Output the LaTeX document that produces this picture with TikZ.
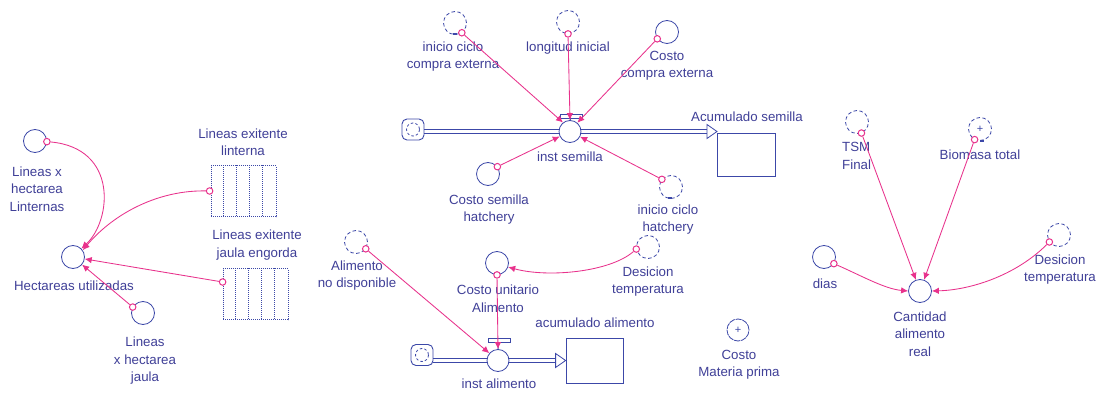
\documentclass[tikz,border=0pt]{standalone}
\usepackage{fontspec}
\setmainfont{Liberation Sans}
\usetikzlibrary{arrows.meta}
\definecolor{simblue}{RGB}{60,72,168}
\definecolor{simtext}{RGB}{64,64,152}
\definecolor{linkpink}{RGB}{232,50,140}

\begin{document}
\begin{tikzpicture}[x=1pt,y=-1pt,
  aux/.style={circle,draw=simblue,line width=0.8pt,minimum size=23pt,inner sep=0pt,fill=white},
  ghost/.style={aux,dash pattern=on 3.5pt off 2.5pt},
  lbl/.style={text=simtext,font=\fontsize{13.3}{17.5}\selectfont,align=center,inner sep=0pt},
  dot/.style={circle,draw=linkpink,fill=white,line width=1pt,minimum size=6.5pt,inner sep=0pt},
  link/.style={draw=linkpink,line width=0.85pt,-{Latex[length=7pt,width=6.5pt]}},
  stock/.style={rectangle,draw=simblue,line width=0.8pt,fill=white,inner sep=0pt},
  lookup/.style={rectangle,draw=simblue,line width=0.8pt,dash pattern=on 1pt off 1pt,
    minimum width=65pt,minimum height=51pt,inner sep=0pt},
  lookupcol/.style={draw=simblue,line width=0.8pt,dash pattern=on 1pt off 1pt},
  source/.style={rectangle,rounded corners=5pt,draw=simblue,line width=0.9pt,fill=white,
    minimum width=22pt,minimum height=21pt,inner sep=0pt},
  pipeline/.style={draw=simblue,line width=0.8pt},
  valvebar/.style={rectangle,draw=simblue,line width=0.8pt,fill=white,
    minimum width=22pt,minimum height=4pt,inner sep=0pt},
  pipehead/.style={draw=simblue,line width=0.8pt,fill=white,line join=miter},
  shadowmark/.style={draw=simblue,line width=1.3pt}
]
\useasboundingbox (0,0) rectangle (1097,393);
\fill[white] (0,0) rectangle (1097,393);

% ---------- land use block ----------
\node[aux] (LxhL) at (35,141) {};
\node[lbl] (LxhLt) at (37,189) {Lineas x\\hectarea\\Linternas};
\node[aux] (HU) at (73,257) {};
\node[lbl] (HUt) at (74,286) {Hectareas utilizadas};
\node[lbl] (LELt) at (243,142) {Lineas exitente\\linterna};
\node[lookup] (LEL) at (243.5,191) {};
\node[lbl] (LEJt) at (257,245) {Lineas exitente\\jaula engorda};
\node[lookup] (LEJ) at (255.5,294) {};
\foreach \k in {13,26,39,52}{
  \draw[lookupcol] ([xshift=\k pt]LEL.north west) -- ([xshift=\k pt]LEL.south west);
  \draw[lookupcol] ([xshift=\k pt]LEJ.north west) -- ([xshift=\k pt]LEJ.south west);
}
\node[aux] (LxhJ) at (143,313) {};
\node[lbl] (LxhJt) at (145,361) {Lineas\\x hectarea\\jaula};

% ---------- seed flow ----------
\node[source] (C1) at (413,129.5) {};
\draw[simblue,line width=0.8pt,dash pattern=on 2.5pt off 2.2pt] (C1.center) circle (6.5);
\node[stock] (AS) at (746,154.5) [minimum width=58pt,minimum height=43pt] {};
\node[lbl] (ASt) at (747,117) {Acumulado semilla};
\coordinate (ASin) at (717,131.5);
\draw[pipeline] ([yshift=2pt]C1.east |- ASin) -- ([xshift=-10pt,yshift=2pt]ASin);
\draw[pipeline] ([yshift=-2pt]C1.east |- ASin) -- ([xshift=-10pt,yshift=-2pt]ASin);
\draw[pipehead] ([xshift=-10pt,yshift=7pt]ASin) -- (ASin) -- ([xshift=-10pt,yshift=-7pt]ASin) -- cycle;
\node[aux,minimum size=22pt] (IS) at (570,131.5) {};
\node[valvebar] (ISbar) at (571,116) {};
\draw[simblue,line width=0.8pt] (ISbar.south) -- (IS.north);
\node[lbl] (ISt) at (570,157) {inst semilla};

\node[ghost] (ICCE) at (455,23) {};
\draw[shadowmark] ([xshift=-2pt,yshift=-11pt]ICCE.center) -- ++(4,0);
\node[lbl] (ICCEt) at (453,56.5) {inicio ciclo\\compra externa};
\node[ghost] (LI) at (568,22) {};
\node[lbl] (LIt) at (568,48) {longitud inicial};
\node[aux] (CCE) at (667,32) {};
\node[lbl] (CCEt) at (667,65.5) {Costo\\compra externa};
\node[aux] (CSH) at (488,174) {};
\node[lbl] (CSHt) at (489,209.5) {Costo semilla\\hatchery};
\node[ghost] (ICH) at (671,187) {};
\draw[shadowmark] ([xshift=-3pt,yshift=-11pt]ICH.center) -- ++(4,0);
\node[lbl] (ICHt) at (668,219.5) {inicio ciclo\\hatchery};

% ---------- feed flow ----------
\node[source] (C2) at (422,355) {};
\draw[simblue,line width=0.8pt,dash pattern=on 2.5pt off 2.2pt] (C2.center) circle (6.5);
\node[stock] (AA) at (594.5,360.5) [minimum width=57pt,minimum height=45pt] {};
\node[lbl] (AAt) at (595,323) {acumulado alimento};
\coordinate (AAin) at (AA.west);
\draw[pipeline] ([yshift=2pt]C2.east |- AAin) -- ([xshift=-10pt,yshift=2pt]AAin);
\draw[pipeline] ([yshift=-2pt]C2.east |- AAin) -- ([xshift=-10pt,yshift=-2pt]AAin);
\draw[pipehead] ([xshift=-10pt,yshift=7pt]AAin) -- (AAin) -- ([xshift=-10pt,yshift=-7pt]AAin) -- cycle;
\node[aux,minimum size=22pt] (IA) at (498,360.5) {};
\node[valvebar] (IAbar) at (499,340) {};
\draw[simblue,line width=0.8pt] (IAbar.south) -- (IA.north);
\node[lbl] (IAt) at (499,384) {inst alimento};

\node[ghost] (AND) at (356,242) {};
\node[lbl] (ANDt) at (357,275.5) {Alimento\\no disponible};
\node[aux] (CUA) at (497,263) {};
\node[lbl] (CUAt) at (498,298.5) {Costo unitario\\Alimento};
\node[ghost] (DT2) at (648,247) {};
\node[lbl] (DT2t) at (648,281.5) {Desicion\\temperatura};
\node[aux,minimum size=22pt,dash pattern=on 6pt off 0.8pt] (CMP) at (738,330)
  {\textcolor{simblue}{\fontsize{11}{11}\selectfont +}};
\node[lbl] (CMPt) at (739,364.5) {Costo\\Materia prima};

% ---------- feed quantity block ----------
\node[ghost] (TSM) at (857,122) {};
\node[lbl,align=left,anchor=west] (TSMt) at (842,156) {TSM\\Final};
\node[ghost] (BT) at (980,129) {\textcolor{simblue}{\fontsize{11}{11}\selectfont +}};
\draw[shadowmark] ([xshift=0pt,yshift=-12pt]BT.center) -- ++(4,0);
\node[lbl] (BTt) at (980,155) {Biomasa total};
\node[ghost] (DT3) at (1059,235) {};
\node[lbl] (DT3t) at (1060,269.5) {Desicion\\temperatura};
\node[aux] (DIAS) at (824,257) {};
\node[lbl] (DIASt) at (825,284) {dias};
\node[aux] (CAR) at (920,291) {};
\node[lbl] (CARt) at (920,334) {Cantidad\\alimento\\real};

% ---------- link origins ----------
\node[dot] (dLxhL) at (LxhL.-3) {};
\node[dot] (dLEL) at ([xshift=-1pt]LEL.west) {};
\node[dot] (dLEJ) at ([yshift=12pt]LEJ.west) {};
\node[dot] (dLxhJ) at (LxhJ.150) {};
\node[dot] (dICCE) at (ICCE.-55) {};
\node[dot] (dLI) at (LI.-90) {};
\node[dot] (dCCE) at (CCE.215) {};
\node[dot] (dCSH) at (CSH.38) {};
\node[dot] (dICH) at (ICH.140) {};
\node[dot] (dAND) at (AND.-35) {};
\node[dot] (dCUA) at (CUA.-90) {};
\node[dot] (dDT2) at (DT2.190) {};
\node[dot] (dTSM) at (TSM.-68) {};
\node[dot] (dBT) at (BT.243) {};
\node[dot] (dDT3) at (DT3.216) {};
\node[dot] (dDIAS) at (DIAS.-34) {};

% ---------- links ----------
\draw[link] (dLxhL) .. controls (118,148) and (112,220) .. (HU.45);
\draw[link] (dLEL) .. controls (160,190) and (115,212) .. (HU.35);
\draw[link] (dLEJ) -- (HU);
\draw[link] (dLxhJ) -- (HU);

\draw[link] (dICCE) -- (IS.128);
\draw[link] (dLI) -- (IS.north);
\draw[link] (dCCE) -- (IS.50);
\draw[link] (dCSH) -- (IS);
\draw[link] (dICH) -- (IS);

\draw[link] (dAND) -- (IA);
\draw[link] (dCUA) -- (IA.north);
\draw[link] (dDT2) .. controls (610,272) and (548,278) .. (CUA.-20);

\draw[link] (dTSM) -- (CAR);
\draw[link] (dBT) -- (CAR);
\draw[link] (dDIAS) .. controls (862,276) and (885,289) .. (CAR.180);
\draw[link] (dDT3) .. controls (1015,276) and (970,290) .. (CAR.0);
\end{tikzpicture}
\end{document}
